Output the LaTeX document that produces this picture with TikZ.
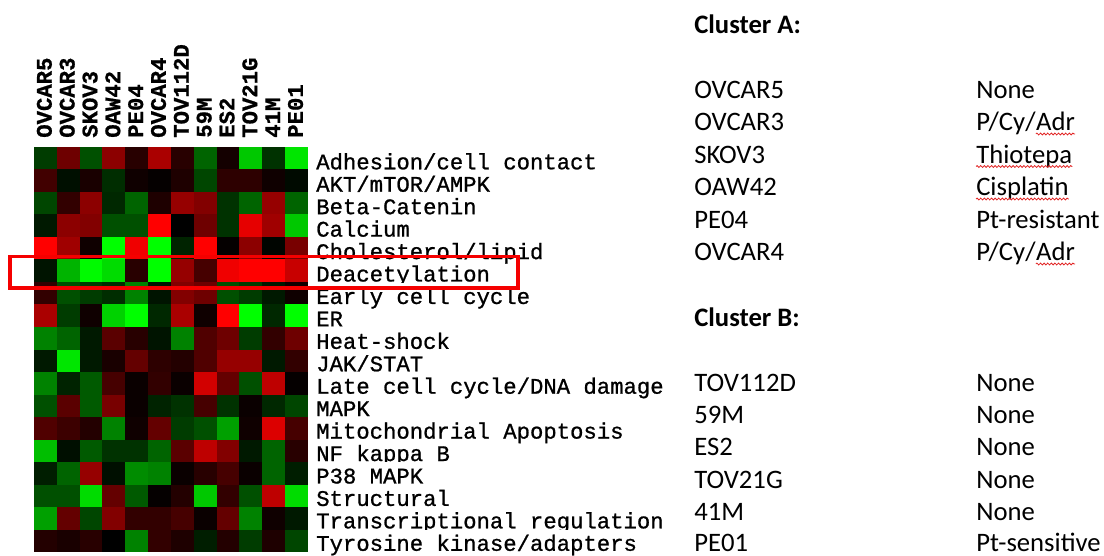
\documentclass[tikz,border=0pt]{standalone}
\usepackage{fontspec}
\setmainfont{Carlito}
\newfontfamily\monofont{Liberation Mono}[FakeBold=0.9]
\newfontfamily\monobold{Liberation Mono Bold}[FakeBold=0.8]
\usetikzlibrary{decorations.pathmorphing}

\definecolor{hlred}{RGB}{245,0,0}
\definecolor{spellred}{RGB}{225,35,35}

% one row of the expression heatmap: positive = red level, negative = green level
\newcommand\heatrow[2]{%
  \foreach \v [count=\c] in {#2} {%
    \ifnum\v<0 \pgfmathtruncatemacro\cellg{-\v}\def\cellr{0}%
    \else \def\cellr{\v}\def\cellg{0}\fi
    \definecolor{cellc}{RGB}{\cellr,\cellg,0}%
    \fill[cellc] ({34+(\c-1)*22.833},{147+(#1-1)*22.5}) rectangle ++(23.1,22.8);
  }}

\tikzset{
  collab/.style={rotate=90, anchor=base west, inner sep=0pt,
    font=\monobold\fontsize{16.7}{18}\selectfont},
  rowlab/.style={anchor=base west, inner sep=0pt, fill=white,
    text height=15.9pt, font=\monofont\fontsize{16.7}{18}\selectfont},
  celltxt/.style={anchor=base west, inner sep=0pt,
    font=\fontsize{20}{24}\selectfont},
  cluster/.style={celltxt, font=\bfseries\fontsize{20}{24}\selectfont},
  squig/.style={spellred, line width=0.6pt, decorate,
    decoration={snake, amplitude=0.7pt, segment length=2.7pt}},
  hlbox/.style={hlred, line width=2.3pt}
}

\begin{document}
\begin{tikzpicture}[x=0.75pt, y=-0.75pt]
\useasboundingbox (0,0) rectangle (1104,556);

% heatmap cells
\heatrow{1}{-60,110,-80,140,40,170,40,-100,20,-200,-50,-230}
\heatrow{2}{65,-15,25,-45,15,5,30,-70,45,45,15,-10}
\heatrow{3}{-70,50,140,-40,-100,30,150,130,-50,-100,150,-100}
\heatrow{4}{-25,140,130,-80,-80,255,0,110,-50,230,160,-200}
\heatrow{5}{255,160,15,-255,240,-255,-35,255,5,140,-5,120}
\heatrow{6}{-20,-180,-250,-220,40,-255,150,70,240,255,255,200}
\heatrow{7}{50,-80,-60,-45,-130,-20,130,110,-80,-60,-25,15}
\heatrow{8}{170,-60,15,-210,-255,-40,170,15,255,-255,-40,-255}
\heatrow{9}{-130,-100,-25,90,40,-20,-130,80,110,-60,50,110}
\heatrow{10}{-25,-230,-25,25,100,45,35,80,150,150,-25,50}
\heatrow{11}{-130,-35,-90,70,10,50,10,210,100,-80,190,5}
\heatrow{12}{-80,90,-90,120,10,-35,-50,70,-50,10,-40,-70}
\heatrow{13}{80,60,35,-130,15,100,-60,-80,-160,15,220,70}
\heatrow{14}{-190,-15,-90,-50,-50,-100,90,190,130,-25,-100,40}
\heatrow{15}{-30,-100,150,-15,-140,-130,10,40,70,10,-100,-30}
\heatrow{16}{-80,-80,-220,100,-90,5,35,-200,50,-80,190,-220}
\heatrow{17}{-160,100,-70,130,50,50,70,10,100,-130,15,-25}
\heatrow{18}{35,25,40,0,-130,50,30,-30,35,-60,30,-70}

% cell line labels above the columns
\foreach \name [count=\c] in {OVCAR5,OVCAR3,SKOV3,OAW42,PE04,OVCAR4,TOV112D,59M,ES2,TOV21G,41M,PE01}
  \node[collab] (col\c) at ({34+(\c-0.5)*22.833+6.3},138) {\name};

% pathway labels beside the rows
\foreach \name [count=\r] in {Adhesion/cell contact,AKT/mTOR/AMPK,Beta-Catenin,Calcium,
    Cholesterol/lipid,Deacetylation,Early cell cycle,ER,Heat-shock,JAK/STAT,
    Late cell cycle/DNA damage,MAPK,Mitochondrial Apoptosis,NF kappa B,P38 MAPK,
    Structural,Transcriptional regulation,Tyrosine kinase/adapters}
  \node[rowlab] (row\r) at (316,{169.3+(\r-1)*22.44}) {\name};

% highlight around the deacetylation row
\draw[hlbox] (10,256.5) rectangle (518,288);

% cluster A
\node[cluster] (ca) at (694,33.3) {Cluster A:};
\node[celltxt] (a1) at (694,98.3) {OVCAR5};
\node[celltxt] (a2) at (694,130.8) {OVCAR3};
\node[celltxt] (a3) at (694,163.3) {SKOV3};
\node[celltxt] (a4) at (694,195.8) {OAW42};
\node[celltxt] (a5) at (694,228.3) {PE04};
\node[celltxt] (a6) at (694,260.8) {OVCAR4};
\node[celltxt] (ta1) at (976,98.3) {None};
\node[celltxt] (ta2) at (976,130.8) {P/Cy/};
\node[celltxt] (ta2w) at (ta2.base east) {Adr};
\node[celltxt] (ta3) at (976,163.3) {Thiotepa};
\node[celltxt] (ta4) at (976,195.8) {Cisplatin};
\node[celltxt] (ta5) at (976,228.3) {Pt-resistant};
\node[celltxt] (ta6) at (976,260.8) {P/Cy/};
\node[celltxt] (ta6w) at (ta6.base east) {Adr};

% cluster B
\node[cluster] (cb) at (694,326.7) {Cluster B:};
\node[celltxt] (b1) at (694,391) {TOV112D};
\node[celltxt] (b2) at (694,423.4) {59M};
\node[celltxt] (b3) at (694,455.8) {ES2};
\node[celltxt] (b4) at (694,488.2) {TOV21G};
\node[celltxt] (b5) at (694,520.6) {41M};
\node[celltxt] (b6) at (694,551.8) {PE01};
\node[celltxt] (tb1) at (976,391) {None};
\node[celltxt] (tb2) at (976,423.4) {None};
\node[celltxt] (tb3) at (976,455.8) {None};
\node[celltxt] (tb4) at (976,488.2) {None};
\node[celltxt] (tb5) at (976,520.6) {None};
\node[celltxt] (tb6) at (976,551.8) {Pt-sensitive};

% spell-check underlines
\foreach \w in {ta2w,ta3,ta4,ta6w}
  \draw[squig] ([yshift=-2.4pt]\w.base west) -- ([yshift=-2.4pt]\w.base east);
\end{tikzpicture}
\end{document}
